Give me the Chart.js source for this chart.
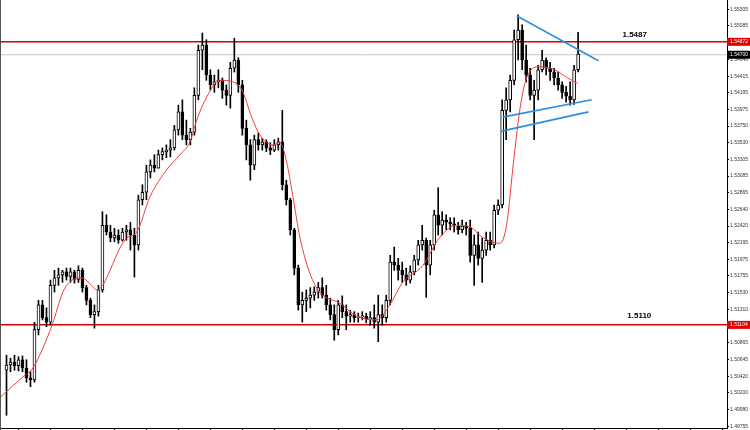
<!DOCTYPE html>
<html>
<head>
<meta charset="utf-8">
<script src="https://cdn.jsdelivr.net/npm/chart.js@4/dist/chart.umd.min.js"></script>
<style>
  html, body { margin: 0; padding: 0; background: #fff; }
  #wrap { width: 750px; height: 430px; position: relative; }
</style>
</head>
<body>
<div id="wrap"><canvas id="chart"></canvas></div>
<script>
// H1 candles, one per slot
const highs = [
  1.5070, 1.5066, 1.5070, 1.5068, 1.5069, 1.5064, 1.5048, 1.5114, 1.5143, 1.5143,
  1.5133, 1.5170, 1.5183, 1.5186, 1.5183, 1.5186, 1.5186, 1.5183, 1.5189, 1.5186,
  1.5163, 1.5146, 1.5137, 1.5163, 1.5261, 1.5257, 1.5243, 1.5239, 1.5237, 1.5239,
  1.5243, 1.5247, 1.5239, 1.5283, 1.5297, 1.5323, 1.5330, 1.5337, 1.5343, 1.5346,
  1.5350, 1.5357, 1.5376, 1.5403, 1.5410, 1.5383, 1.5372, 1.5426, 1.5483, 1.5499,
  1.5490, 1.5450, 1.5443, 1.5450, 1.5439, 1.5430, 1.5460, 1.5492, 1.5466, 1.5436,
  1.5383, 1.5357, 1.5363, 1.5366, 1.5359, 1.5357, 1.5353, 1.5357, 1.5359, 1.5396,
  1.5303, 1.5279, 1.5239, 1.5190, 1.5154, 1.5157, 1.5160, 1.5161, 1.5167, 1.5173,
  1.5163, 1.5146, 1.5137, 1.5143, 1.5149, 1.5137, 1.5130, 1.5128, 1.5126, 1.5128,
  1.5126, 1.5128, 1.5137, 1.5150, 1.5137, 1.5150, 1.5203, 1.5214, 1.5199, 1.5194,
  1.5186, 1.5189, 1.5203, 1.5223, 1.5243, 1.5226, 1.5223, 1.5263, 1.5293, 1.5261,
  1.5257, 1.5253, 1.5253, 1.5247, 1.5250, 1.5247, 1.5250, 1.5230, 1.5234, 1.5226,
  1.5234, 1.5234, 1.5270, 1.5277, 1.5410, 1.5426, 1.5443, 1.5503, 1.5523, 1.5510,
  1.5483, 1.5452, 1.5436, 1.5456, 1.5476, 1.5466, 1.5460, 1.5452, 1.5447, 1.5434,
  1.5428, 1.5434, 1.5456, 1.5500
];
const lows = [
  1.4990, 1.5048, 1.5050, 1.5049, 1.5048, 1.5034, 1.5028, 1.5034, 1.5097, 1.5117,
  1.5108, 1.5110, 1.5154, 1.5163, 1.5167, 1.5170, 1.5167, 1.5166, 1.5167, 1.5154,
  1.5137, 1.5120, 1.5106, 1.5122, 1.5154, 1.5230, 1.5221, 1.5221, 1.5219, 1.5222,
  1.5223, 1.5210, 1.5174, 1.5210, 1.5270, 1.5277, 1.5306, 1.5314, 1.5319, 1.5330,
  1.5333, 1.5334, 1.5343, 1.5363, 1.5357, 1.5350, 1.5350, 1.5363, 1.5410, 1.5450,
  1.5436, 1.5423, 1.5420, 1.5426, 1.5412, 1.5403, 1.5399, 1.5447, 1.5420, 1.5363,
  1.5330, 1.5303, 1.5317, 1.5343, 1.5343, 1.5341, 1.5337, 1.5341, 1.5343, 1.5290,
  1.5270, 1.5230, 1.5177, 1.5130, 1.5114, 1.5128, 1.5133, 1.5143, 1.5146, 1.5146,
  1.5130, 1.5117, 1.5090, 1.5097, 1.5120, 1.5104, 1.5114, 1.5114, 1.5114, 1.5117,
  1.5113, 1.5110, 1.5106, 1.5088, 1.5110, 1.5114, 1.5137, 1.5183, 1.5170, 1.5167,
  1.5163, 1.5166, 1.5177, 1.5190, 1.5210, 1.5147, 1.5177, 1.5210, 1.5230, 1.5230,
  1.5237, 1.5237, 1.5234, 1.5231, 1.5233, 1.5230, 1.5194, 1.5163, 1.5190, 1.5167,
  1.5203, 1.5210, 1.5213, 1.5257, 1.5266, 1.5357, 1.5394, 1.5430, 1.5463, 1.5450,
  1.5434, 1.5410, 1.5357, 1.5410, 1.5447, 1.5443, 1.5436, 1.5430, 1.5423, 1.5412,
  1.5407, 1.5403, 1.5404, 1.5447
];
const closes = [
  1.5057, 1.5061, 1.5056, 1.5064, 1.5053, 1.5040, 1.5037, 1.5104, 1.5137, 1.5120,
  1.5114, 1.5163, 1.5173, 1.5177, 1.5181, 1.5175, 1.5181, 1.5171, 1.5183, 1.5160,
  1.5143, 1.5124, 1.5128, 1.5157, 1.5243, 1.5234, 1.5226, 1.5230, 1.5223, 1.5234,
  1.5237, 1.5230, 1.5217, 1.5277, 1.5287, 1.5314, 1.5323, 1.5319, 1.5337, 1.5341,
  1.5343, 1.5346, 1.5370, 1.5394, 1.5363, 1.5357, 1.5367, 1.5416, 1.5476, 1.5483,
  1.5443, 1.5430, 1.5434, 1.5436, 1.5423, 1.5416, 1.5452, 1.5463, 1.5430, 1.5372,
  1.5350, 1.5323, 1.5357, 1.5350, 1.5354, 1.5346, 1.5343, 1.5350, 1.5354, 1.5297,
  1.5277, 1.5237, 1.5186, 1.5137, 1.5143, 1.5146, 1.5150, 1.5154, 1.5160, 1.5150,
  1.5137, 1.5124, 1.5104, 1.5137, 1.5128, 1.5122, 1.5124, 1.5120, 1.5121, 1.5122,
  1.5118, 1.5120, 1.5114, 1.5124, 1.5120, 1.5143, 1.5194, 1.5190, 1.5183, 1.5177,
  1.5170, 1.5181, 1.5197, 1.5217, 1.5223, 1.5190, 1.5217, 1.5257, 1.5243, 1.5250,
  1.5247, 1.5245, 1.5242, 1.5237, 1.5242, 1.5239, 1.5203, 1.5217, 1.5199, 1.5210,
  1.5223, 1.5217, 1.5263, 1.5270, 1.5396, 1.5410, 1.5436, 1.5490, 1.5503, 1.5463,
  1.5443, 1.5416, 1.5423, 1.5450, 1.5463, 1.5452, 1.5447, 1.5439, 1.5430, 1.5420,
  1.5415, 1.5410, 1.5450, 1.5471
];
const firstOpen = 1.5050;

// red moving average, read at points along the curve [slot, price]
const maPoints = [
  [-1.6, 1.5014], [4.1, 1.5041], [6.6, 1.5053], [11.4, 1.5110], [14.1, 1.5154],
  [16.4, 1.5170], [18.9, 1.5173], [20.9, 1.5165], [22.6, 1.5157], [24.4, 1.5166],
  [25.9, 1.5183], [28.4, 1.5213], [30.1, 1.5226], [32.6, 1.5234], [35.9, 1.5281],
  [40.1, 1.5317], [43.4, 1.5337], [45.9, 1.5354], [47.6, 1.5383], [50.1, 1.5414],
  [53.4, 1.5436], [56.6, 1.5434], [58.9, 1.5423], [61.4, 1.5386], [63.4, 1.5363],
  [66.6, 1.5350], [68.4, 1.5353], [70.1, 1.5327], [71.6, 1.5283], [73.4, 1.5227],
  [75.9, 1.5179], [78.4, 1.5154], [83.4, 1.5139], [87.6, 1.5122], [92.6, 1.5117],
  [95.9, 1.5137], [99.1, 1.5167], [104.1, 1.5189], [108.4, 1.5227], [112.6, 1.5243],
  [115.9, 1.5241], [119.1, 1.5227], [123.4, 1.5219], [125.1, 1.5243], [126.9, 1.5330],
  [128.6, 1.5403], [130.4, 1.5443], [133.4, 1.5454], [137.1, 1.5450], [140.4, 1.5439],
  [142.9, 1.5432]
];

// triangle trend lines [slot, price]
const trendTop = [[127.6, 1.5522], [148.1, 1.5462]];
const trendMid = [[124.1, 1.5387], [146.4, 1.5410]];
const trendLow = [[123.6, 1.5368], [145.6, 1.5394]];

const resistance = 1.54872;
const support = 1.51104;
const bid = 1.54700;

const yTicks = [
  1.55305, 1.55085, 1.54865, 1.54640, 1.54415, 1.54195, 1.53975, 1.53750, 1.53530,
  1.53305, 1.53085, 1.52865, 1.52640, 1.52420, 1.52195, 1.51975, 1.51755, 1.51530,
  1.51310, 1.51090, 1.50865, 1.50645, 1.50420, 1.50200, 1.49980, 1.49755
];

const xMin = -1.625, xMax = 180.25;
const xTicks = [];
for (let v = 7.125; v < xMax; v += 8) xTicks.push(v);

const opens = closes.map((c, i) => (i === 0 ? firstOpen : closes[i - 1]));
const wickData = highs.map((h, i) => ({ x: i, y: [lows[i], h] }));
const bodyData = closes.map((c, i) => ({ x: i, y: [opens[i], c] }));
const bodyFill = closes.map((c, i) => (c >= opens[i] ? "#ffffff" : "#000000"));

const toXY = (arr) => arr.map((p) => ({ x: p[0], y: p[1] }));
const hline = (v) => [{ x: xMin, y: v }, { x: xMax, y: v }];

const tags = {
  id: "tags",
  afterDraw(chart) {
    const ctx = chart.ctx;
    const y = chart.scales.y;
    const x = chart.scales.x;
    ctx.save();
    // left frame
    ctx.strokeStyle = "#555";
    ctx.lineWidth = 1;
    ctx.beginPath();
    ctx.moveTo(0.5, 0);
    ctx.lineTo(0.5, 430);
    ctx.stroke();

    const tag = (val, text, bg) => {
      const py = y.getPixelForValue(val);
      ctx.fillStyle = bg;
      ctx.fillRect(727, py - 4, 23, 8);
      ctx.fillStyle = "#fff";
      ctx.font = "5px 'Liberation Sans'";
      ctx.textBaseline = "middle";
      ctx.textAlign = "left";
      ctx.fillText(text, 730, py);
    };
    tag(resistance, resistance.toFixed(5), "#e00000");
    tag(support, support.toFixed(5), "#e00000");
    tag(bid, bid.toFixed(5), "#000");

    ctx.fillStyle = "#000";
    ctx.font = "bold 8px 'Liberation Sans'";
    ctx.textAlign = "left";
    ctx.textBaseline = "middle";
    ctx.fillText("1.5487", x.getPixelForValue(154.1), y.getPixelForValue(resistance) - 7);
    ctx.fillText("1.5110", x.getPixelForValue(155.3), y.getPixelForValue(support) - 9);
    ctx.restore();
  }
};

new Chart(document.getElementById("chart"), {
  type: "bar",
  data: {
    datasets: [
      {
        type: "line",
        data: hline(bid),
        borderColor: "#c8c8c8",
        borderWidth: 1,
        pointRadius: 0,
        order: 5
      },
      {
        type: "line",
        data: hline(resistance),
        borderColor: "#d80000",
        borderWidth: 1.5,
        pointRadius: 0,
        order: 4
      },
      {
        type: "line",
        data: hline(support),
        borderColor: "#d80000",
        borderWidth: 1.5,
        pointRadius: 0,
        order: 4
      },
      {
        data: wickData,
        backgroundColor: "#000",
        barThickness: 1,
        grouped: false,
        order: 3
      },
      {
        data: bodyData,
        backgroundColor: bodyFill,
        borderColor: "#000",
        borderWidth: 1,
        borderSkipped: false,
        barThickness: 3,
        minBarLength: 1,
        grouped: false,
        order: 2
      },
      {
        type: "line",
        data: toXY(maPoints),
        borderColor: "#f03c3c",
        borderWidth: 1,
        pointRadius: 0,
        cubicInterpolationMode: "monotone",
        order: 1
      },
      {
        type: "line",
        data: toXY(trendTop),
        borderColor: "#2e8fe0",
        borderWidth: 1.6,
        pointRadius: 0,
        order: 0
      },
      {
        type: "line",
        data: toXY(trendMid),
        borderColor: "#2e8fe0",
        borderWidth: 1.6,
        pointRadius: 0,
        order: 0
      },
      {
        type: "line",
        data: toXY(trendLow),
        borderColor: "#2e8fe0",
        borderWidth: 1.6,
        pointRadius: 0,
        order: 0
      }
    ]
  },
  options: {
    responsive: true,
    maintainAspectRatio: false,
    animation: false,
    devicePixelRatio: 1,
    layout: { padding: 0 },
    plugins: { legend: { display: false }, tooltip: { enabled: false } },
    scales: {
      x: {
        type: "linear",
        min: xMin,
        max: xMax,
        offset: false,
        grid: { drawOnChartArea: false, tickLength: 2, color: "#000" },
        border: { color: "#000" },
        ticks: { display: false },
        afterBuildTicks: (s) => { s.ticks = xTicks.map((v) => ({ value: v })); },
        afterFit: (s) => { s.height = 2; s.paddingLeft = 0; s.paddingRight = 0; }
      },
      y: {
        type: "linear",
        position: "right",
        min: 1.49731,
        max: 1.55429,
        grid: { drawOnChartArea: false, tickLength: 2, color: "#000" },
        border: { color: "#000" },
        ticks: {
          color: "#333",
          padding: 1,
          font: { size: 5, family: "Liberation Sans" },
          callback: (v) => Number(v).toFixed(5)
        },
        afterBuildTicks: (s) => { s.ticks = yTicks.map((v) => ({ value: v })); },
        afterFit: (s) => { s.width = 23; s.paddingTop = 0; s.paddingBottom = 0; }
      }
    }
  },
  plugins: [tags]
});
</script>
</body>
</html>
